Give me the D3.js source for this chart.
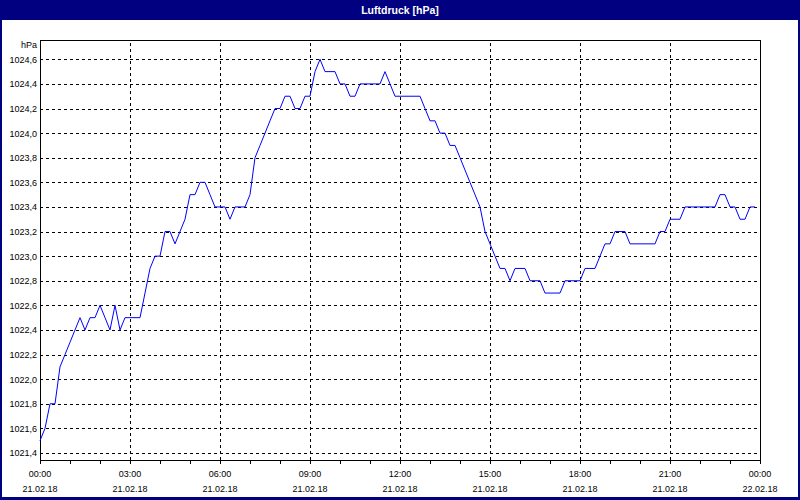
<!DOCTYPE html>
<html>
<head>
<meta charset="utf-8">
<script src="https://cdn.jsdelivr.net/npm/d3@7"></script>
<style>
  body { margin: 0; background: #fff; }
  svg { display: block; }
  text { font-family: "Liberation Sans", Arial, sans-serif; }
</style>
</head>
<body>
<svg id="chart" width="800" height="500"></svg>
<script>
// --- data ---
const chartTitle = 'Luftdruck [hPa]';
const unitLabel = 'hPa';
const startTime = new Date(2018, 1, 21, 0, 0);
const endTime = new Date(2018, 1, 22, 0, 0);
const stepMinutes = 10;

// pressure in hPa, one reading every 10 minutes from 00:00
const pressure = [
  1021.5, 1021.6, 1021.8, 1021.8, 1022.1, 1022.2, 1022.3, 1022.4, 1022.5, 1022.4,
  1022.5, 1022.5, 1022.6, 1022.5, 1022.4, 1022.6, 1022.4, 1022.5, 1022.5, 1022.5,
  1022.5, 1022.7, 1022.9, 1023.0, 1023.0, 1023.2, 1023.2, 1023.1, 1023.2, 1023.3,
  1023.5, 1023.5, 1023.6, 1023.6, 1023.5, 1023.4, 1023.4, 1023.4, 1023.3, 1023.4,
  1023.4, 1023.4, 1023.5, 1023.8, 1023.9, 1024.0, 1024.1, 1024.2, 1024.2, 1024.3,
  1024.3, 1024.2, 1024.2, 1024.3, 1024.3, 1024.5, 1024.6, 1024.5, 1024.5, 1024.5,
  1024.4, 1024.4, 1024.3, 1024.3, 1024.4, 1024.4, 1024.4, 1024.4, 1024.4, 1024.5,
  1024.4, 1024.3, 1024.3, 1024.3, 1024.3, 1024.3, 1024.3, 1024.2, 1024.1, 1024.1,
  1024.0, 1024.0, 1023.9, 1023.9, 1023.8, 1023.7, 1023.6, 1023.5, 1023.4, 1023.2,
  1023.1, 1023.0, 1022.9, 1022.9, 1022.8, 1022.9, 1022.9, 1022.9, 1022.8, 1022.8,
  1022.8, 1022.7, 1022.7, 1022.7, 1022.7, 1022.8, 1022.8, 1022.8, 1022.8, 1022.9,
  1022.9, 1022.9, 1023.0, 1023.1, 1023.1, 1023.2, 1023.2, 1023.2, 1023.1, 1023.1,
  1023.1, 1023.1, 1023.1, 1023.1, 1023.2, 1023.2, 1023.3, 1023.3, 1023.3, 1023.4,
  1023.4, 1023.4, 1023.4, 1023.4, 1023.4, 1023.4, 1023.5, 1023.5, 1023.4, 1023.4,
  1023.3, 1023.3, 1023.4, 1023.4
];

const yTicks = [1021.4, 1021.6, 1021.8, 1022.0, 1022.2, 1022.4, 1022.6, 1022.8,
  1023.0, 1023.2, 1023.4, 1023.6, 1023.8, 1024.0, 1024.2, 1024.4, 1024.6];
const xTickTimes = ['00:00', '03:00', '06:00', '09:00', '12:00', '15:00', '18:00', '21:00', '00:00'];
const xTickDates = ['21.02.18', '21.02.18', '21.02.18', '21.02.18', '21.02.18',
  '21.02.18', '21.02.18', '21.02.18', '22.02.18'];

// --- layout ---
const W = 800, H = 500;
const plot = { left: 40, right: 760, top: 40, bottom: 460 };
const navy = '#000080';

const svg = d3.select('#chart');

const x = d3.scaleTime()
  .domain([startTime, endTime])
  .range([plot.left, plot.right]);

const y = d3.scaleLinear()
  .domain([1021.343, 1024.757])
  .range([plot.bottom, plot.top]);

const deLocale = d3.formatLocale({ decimal: ',', thousands: '.', grouping: [3], currency: ['', ' €'] });
const fmt = deLocale.format('.1f');

// window frame
svg.append('rect').attr('width', W).attr('height', H).attr('fill', '#fff');
svg.append('rect').attr('x', 0).attr('y', 0).attr('width', W).attr('height', 20).attr('fill', navy);
svg.append('rect').attr('x', 0).attr('y', 0).attr('width', 2).attr('height', H).attr('fill', navy);
svg.append('rect').attr('x', W - 2).attr('y', 0).attr('width', 2).attr('height', H).attr('fill', navy);
svg.append('rect').attr('x', 0).attr('y', H - 3).attr('width', W).attr('height', 3).attr('fill', navy);

svg.append('text')
  .attr('x', W / 2)
  .attr('y', 14)
  .attr('text-anchor', 'middle')
  .attr('fill', '#fff')
  .style('font-size', '10.5px')
  .style('font-weight', 'bold')
  .text(chartTitle);

// horizontal grid
svg.append('g')
  .attr('transform', `translate(${plot.left},0)`)
  .call(d3.axisLeft(y).tickValues(yTicks).tickSize(-(plot.right - plot.left)).tickFormat(''))
  .call(g => g.select('.domain').remove())
  .call(g => g.selectAll('line')
    .attr('stroke', '#000')
    .attr('stroke-dasharray', '3,3')
    .attr('shape-rendering', 'crispEdges'));

// vertical grid every 3 hours
const gridTimes = d3.timeHour.every(3).range(startTime, endTime).slice(1);
svg.append('g')
  .attr('transform', `translate(0,${plot.bottom})`)
  .call(d3.axisBottom(x).tickValues(gridTimes).tickSize(-(plot.bottom - plot.top)).tickFormat(''))
  .call(g => g.select('.domain').remove())
  .call(g => g.selectAll('line')
    .attr('stroke', '#000')
    .attr('stroke-dasharray', '3,3')
    .attr('shape-rendering', 'crispEdges'));

// hourly ticks below the axis
svg.append('g')
  .attr('transform', `translate(0,${plot.bottom})`)
  .call(d3.axisBottom(x).ticks(d3.timeHour.every(1)).tickSizeInner(4).tickSizeOuter(0).tickFormat(''))
  .call(g => g.select('.domain').remove())
  .call(g => g.selectAll('line').attr('stroke', '#000').attr('shape-rendering', 'crispEdges'));

// plot frame
svg.append('rect')
  .attr('x', plot.left + 0.5)
  .attr('y', plot.top + 0.5)
  .attr('width', plot.right - plot.left)
  .attr('height', plot.bottom - plot.top)
  .attr('fill', 'none')
  .attr('stroke', '#000')
  .attr('shape-rendering', 'crispEdges');

// y labels
svg.append('g')
  .attr('transform', `translate(${plot.left},0)`)
  .call(d3.axisLeft(y).tickValues(yTicks).tickSize(0).tickPadding(3).tickFormat(fmt))
  .call(g => g.select('.domain').remove())
  .call(g => g.selectAll('text')
    .attr('fill', '#000')
    .style('font-family', '"Liberation Sans", Arial, sans-serif')
    .style('font-size', '9px'));

svg.append('text')
  .attr('x', plot.left - 3)
  .attr('y', 48)
  .attr('text-anchor', 'end')
  .style('font-size', '9px')
  .text(unitLabel);

// x labels, two lines
const labelTimes = d3.timeHour.every(3).range(startTime, d3.timeMinute.offset(endTime, 1));
const xl = svg.append('g');
labelTimes.forEach((t, i) => {
  const tx = xl.append('text')
    .attr('x', x(t))
    .attr('text-anchor', 'middle')
    .style('font-size', '9px');
  tx.append('tspan').attr('x', x(t)).attr('y', 477).text(xTickTimes[i]);
  tx.append('tspan').attr('x', x(t)).attr('y', 492).text(xTickDates[i]);
});

// pressure line
const line = d3.line()
  .x((d, i) => x(d3.timeMinute.offset(startTime, i * stepMinutes)))
  .y(d => y(d));

svg.append('path')
  .datum(pressure)
  .attr('d', line)
  .attr('fill', 'none')
  .attr('stroke', '#0000ff')
  .attr('stroke-width', 1);
</script>
</body>
</html>
